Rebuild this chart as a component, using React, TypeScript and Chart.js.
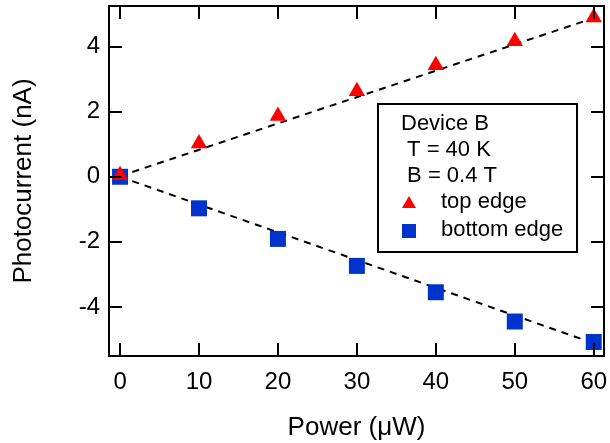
import React, { useEffect, useRef } from "react";
import { Chart, registerables } from "chart.js";

Chart.register(...registerables);

// ---- data ----
const powers = [0, 10, 20, 30, 40, 50, 60];
const topEdge = [0.05, 1.02, 1.87, 2.63, 3.43, 4.17, 4.9];
const bottomEdge = [0.0, -0.97, -1.91, -2.74, -3.55, -4.45, -5.08];
const fitX = [0, 60];
const topFit = [0.02, 4.88];
const bottomFit = [0.0, -5.12];
const xTicks = [0, 10, 20, 30, 40, 50, 60];
const yTicks = [-4, -2, 0, 2, 4];
const legendHeader = ["Device B", " T = 40 K", " B = 0.4 T"];
const seriesNames = ["top edge", "bottom edge"];
const xTitle = "Power (\u03bcW)";
const yTitle = "Photocurrent (nA)";

const RED = "#FF0000";
const BLUE = "#0033CC";
const FONT = "'Liberation Sans', Arial, sans-serif";

const framePlugin = {
  id: "frameTicks",
  afterDatasetsDraw(chart: any) {
    const { ctx, chartArea } = chart;
    const { left, right, top, bottom } = chartArea;
    const xs = chart.scales.x;
    const ys = chart.scales.y;
    const tl = 13;
    ctx.save();
    ctx.strokeStyle = "#000";
    ctx.lineWidth = 2;
    ctx.beginPath();
    xTicks.forEach((v) => {
      const px = Math.round(xs.getPixelForValue(v));
      ctx.moveTo(px, bottom);
      ctx.lineTo(px, bottom - tl);
      ctx.moveTo(px, top);
      ctx.lineTo(px, top + tl);
    });
    yTicks.forEach((v) => {
      const py = Math.round(ys.getPixelForValue(v));
      ctx.moveTo(left, py);
      ctx.lineTo(left + tl, py);
      ctx.moveTo(right, py);
      ctx.lineTo(right - tl, py);
    });
    ctx.stroke();
    ctx.strokeRect(left, top, right - left, bottom - top);
    ctx.restore();
  },
};

const legendPlugin = {
  id: "boxLegend",
  afterDraw(chart: any) {
    const { ctx } = chart;
    const bx = 378, by = 104, bw = 199, bh = 148;
    ctx.save();
    ctx.fillStyle = "#fff";
    ctx.fillRect(bx, by, bw, bh);
    ctx.strokeStyle = "#000";
    ctx.lineWidth = 2;
    ctx.strokeRect(bx, by, bw, bh);
    ctx.fillStyle = "#000";
    ctx.font = `22px ${FONT}`;
    ctx.textBaseline = "middle";
    ctx.textAlign = "left";
    const hy = [124, 150, 176];
    legendHeader.forEach((t, i) => ctx.fillText(t, 401, hy[i]));
    ctx.fillText(seriesNames[0], 441, 202);
    ctx.fillText(seriesNames[1], 441, 230);
    ctx.fillStyle = RED;
    ctx.beginPath();
    ctx.moveTo(409, 196);
    ctx.lineTo(416, 208);
    ctx.lineTo(402, 208);
    ctx.closePath();
    ctx.fill();
    ctx.fillStyle = BLUE;
    ctx.fillRect(402, 224, 14, 14);
    ctx.restore();
  },
};

const zeroPad = (s: any) => {
  s.paddingTop = 0;
  s.paddingBottom = 0;
  s.paddingLeft = 0;
  s.paddingRight = 0;
};

export default function App() {
  const ref = useRef<HTMLCanvasElement>(null);
  useEffect(() => {
    if (!ref.current) return;
    const chart = new Chart(ref.current, {
      type: "scatter",
      data: {
        datasets: [
          {
            label: seriesNames[0],
            data: powers.map((p, i) => ({ x: p, y: topEdge[i] })),
            pointStyle: "triangle",
            pointRadius: 9.5,
            pointBackgroundColor: RED,
            pointBorderColor: RED,
            pointBorderWidth: 0,
            showLine: false,
            order: 0,
            clip: false,
          },
          {
            label: seriesNames[1],
            data: powers.map((p, i) => ({ x: p, y: bottomEdge[i] })),
            pointStyle: "rect",
            pointRadius: 11.3,
            pointBackgroundColor: BLUE,
            pointBorderColor: BLUE,
            pointBorderWidth: 0,
            showLine: false,
            order: 1,
            clip: false,
          },
          {
            label: "top fit",
            data: fitX.map((x, i) => ({ x, y: topFit[i] })),
            showLine: true,
            borderColor: "#000",
            borderWidth: 2,
            borderDash: [7, 6],
            pointRadius: 0,
            order: 2,
          },
          {
            label: "bottom fit",
            data: fitX.map((x, i) => ({ x, y: bottomFit[i] })),
            showLine: true,
            borderColor: "#000",
            borderWidth: 2,
            borderDash: [7, 6],
            pointRadius: 0,
            order: 3,
          },
        ],
      },
      options: {
        animation: false,
        responsive: false,
        layout: { autoPadding: false, padding: { left: 0, top: 6, right: 6, bottom: 0 } },
        plugins: { legend: { display: false }, tooltip: { enabled: false } },
        scales: {
          x: {
            type: "linear",
            min: -1.4,
            max: 61.3,
            afterBuildTicks: (s: any) => {
              s.ticks = xTicks.map((v) => ({ value: v }));
            },
            afterFit: (s: any) => {
              s.height = 87;
              zeroPad(s);
            },
            grid: { display: false, drawTicks: false },
            border: { display: false },
            ticks: {
              color: "#000",
              padding: 12,
              font: { family: FONT, size: 24 },
              maxRotation: 0,
              autoSkip: false,
            },
            title: {
              display: true,
              text: xTitle,
              color: "#000",
              font: { family: FONT, size: 26, lineHeight: 1.2 },
              padding: { top: 2, bottom: 0 },
            },
          },
          y: {
            type: "linear",
            min: -5.51,
            max: 5.25,
            afterBuildTicks: (s: any) => {
              s.ticks = yTicks.map((v) => ({ value: v }));
            },
            afterFit: (s: any) => {
              s.width = 109;
              zeroPad(s);
            },
            grid: { display: false, drawTicks: false },
            border: { display: false },
            ticks: {
              color: "#000",
              padding: 9,
              font: { family: FONT, size: 24 },
              autoSkip: false,
            },
            title: {
              display: true,
              text: yTitle,
              color: "#000",
              font: { family: FONT, size: 26, lineHeight: 1.2 },
              padding: { top: 8, bottom: 0 },
            },
          },
        },
      },
      plugins: [framePlugin, legendPlugin],
    });
    return () => chart.destroy();
  }, []);
  return (
    <div style={{ position: "fixed", left: 0, top: 0, width: 610, height: 443, background: "#fff" }}>
      <canvas ref={ref} width={610} height={443} style={{ display: "block" }} />
    </div>
  );
}
